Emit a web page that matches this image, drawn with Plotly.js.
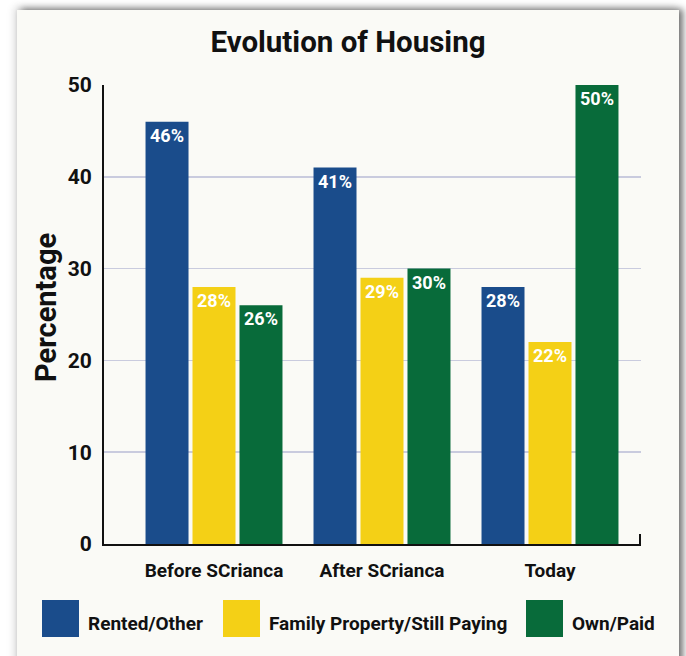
<!DOCTYPE html>
<html>
<head>
<meta charset="utf-8">
<script src="https://cdn.plot.ly/plotly-3.0.1.min.js"></script>
<style>
  html, body { margin: 0; padding: 0; background: #ffffff; width: 686px; height: 656px; overflow: hidden; }
  #card { position: absolute; left: 17px; top: 10px; width: 662px; height: 720px; background: #fafaf6;
          box-shadow: 4px -1px 7px rgba(0,0,0,0.55), -3px -3px 8px rgba(0,0,0,0.12); }
  #chart { position: absolute; left: 0; top: 0; width: 686px; height: 656px; }
</style>
</head>
<body>
<div id="card"></div>
<div id="chart"></div>
<script>
// ---- data ----
const categories = ["Before SCrianca", "After SCrianca", "Today"];
const seriesNames = ["Rented/Other", "Family Property/Still Paying", "Own/Paid"];
const rentedOther = [46, 41, 28];
const familyProperty = [28, 29, 22];
const ownPaid = [26, 30, 50];
const yTicks = [0, 10, 20, 30, 40, 50];
const yTitle = "Percentage";

// ---- styles ----
const colors = ["#1a4c8b", "#f4d016", "#086b3a"];
const FONT = "Roboto, 'Open Sans', sans-serif";
const seriesValues = [rentedOther, familyProperty, ownPaid];

// plot area geometry (pixels)
const W = 686, H = 656;
const L = 104, R = 641, T = 85, B = 544;
const px2x = X => (X - L) / (R - L);
const px2y = Y => (B - Y) / (B - T);

const traces = seriesValues.map((vals, i) => ({
  type: "bar",
  name: seriesNames[i],
  x: categories,
  y: vals,
  marker: { color: colors[i], line: { width: 0 } },
  texttemplate: "%{y}%",
  textposition: "inside",
  insidetextanchor: "end",
  textangle: 0,
  constraintext: "none",
  textfont: { family: FONT, size: 18, color: "#ffffff", weight: 700 },
  hoverinfo: "skip",
  showlegend: false
}));

// manual legend (large swatches)
const legendSwatchX = [42, 223, 526];
const legendTextX = [87, 268, 571];
const shapes = [];
const annotations = [];
seriesNames.forEach((n, i) => {
  shapes.push({
    type: "rect", xref: "paper", yref: "paper",
    x0: px2x(legendSwatchX[i]), x1: px2x(legendSwatchX[i] + 37),
    y0: px2y(637), y1: px2y(600),
    fillcolor: colors[i], line: { width: 0 }
  });
  annotations.push({
    xref: "paper", yref: "paper",
    x: px2x(legendTextX[i] - 1), y: px2y(623),
    xanchor: "left", yanchor: "middle",
    text: n, showarrow: false,
    font: { family: FONT, size: 19, color: "#111111", weight: 700 }
  });
});
// y axis title placed at the reference position
annotations.push({
  xref: "paper", yref: "paper",
  x: px2x(46), y: px2y(308),
  xanchor: "center", yanchor: "middle",
  textangle: -90,
  text: yTitle, showarrow: false,
  font: { family: FONT, size: 29, color: "#111111", weight: 700 }
});
// small end tick at right of x axis
shapes.push({
  type: "line", xref: "paper", yref: "paper",
  x0: px2x(640), x1: px2x(640), y0: px2y(545.5), y1: px2y(534),
  line: { color: "#111111", width: 2 }
});

const layout = {
  width: W, height: H,
  margin: { l: L, r: W - R, t: T, b: H - B, pad: 0 },
  paper_bgcolor: "rgba(0,0,0,0)",
  plot_bgcolor: "rgba(0,0,0,0)",
  title: {
    text: "Evolution of Housing",
    font: { family: FONT, size: 29.5, color: "#111111", weight: 700 },
    x: 348 / W, xanchor: "center",
    yref: "container", y: 1 - 42 / H, yanchor: "middle"
  },
  barmode: "group",
  bargap: 0.161,
  bargroupgap: 0.085,
  xaxis: {
    type: "category",
    range: [-0.6548, 2.5417],
    showline: true, linecolor: "#111111", linewidth: 2,
    showgrid: false, zeroline: false,
    ticks: "", ticklabelstandoff: 8,
    tickfont: { family: FONT, size: 19, color: "#111111", weight: 700 },
    fixedrange: true
  },
  yaxis: {
    range: [0, 50],
    tickvals: yTicks,
    showline: true, linecolor: "#111111", linewidth: 2,
    showgrid: true, gridcolor: "#c9cbde", gridwidth: 1.5,
    zeroline: false,
    ticks: "", ticklabelstandoff: 6,
    tickfont: { family: FONT, size: 21, color: "#111111", weight: 700 },
    fixedrange: true
  },
  shapes: shapes,
  annotations: annotations,
  font: { family: FONT, color: "#111111" }
};

Plotly.newPlot("chart", traces, layout, { displayModeBar: false, staticPlot: true });
</script>
</body>
</html>
